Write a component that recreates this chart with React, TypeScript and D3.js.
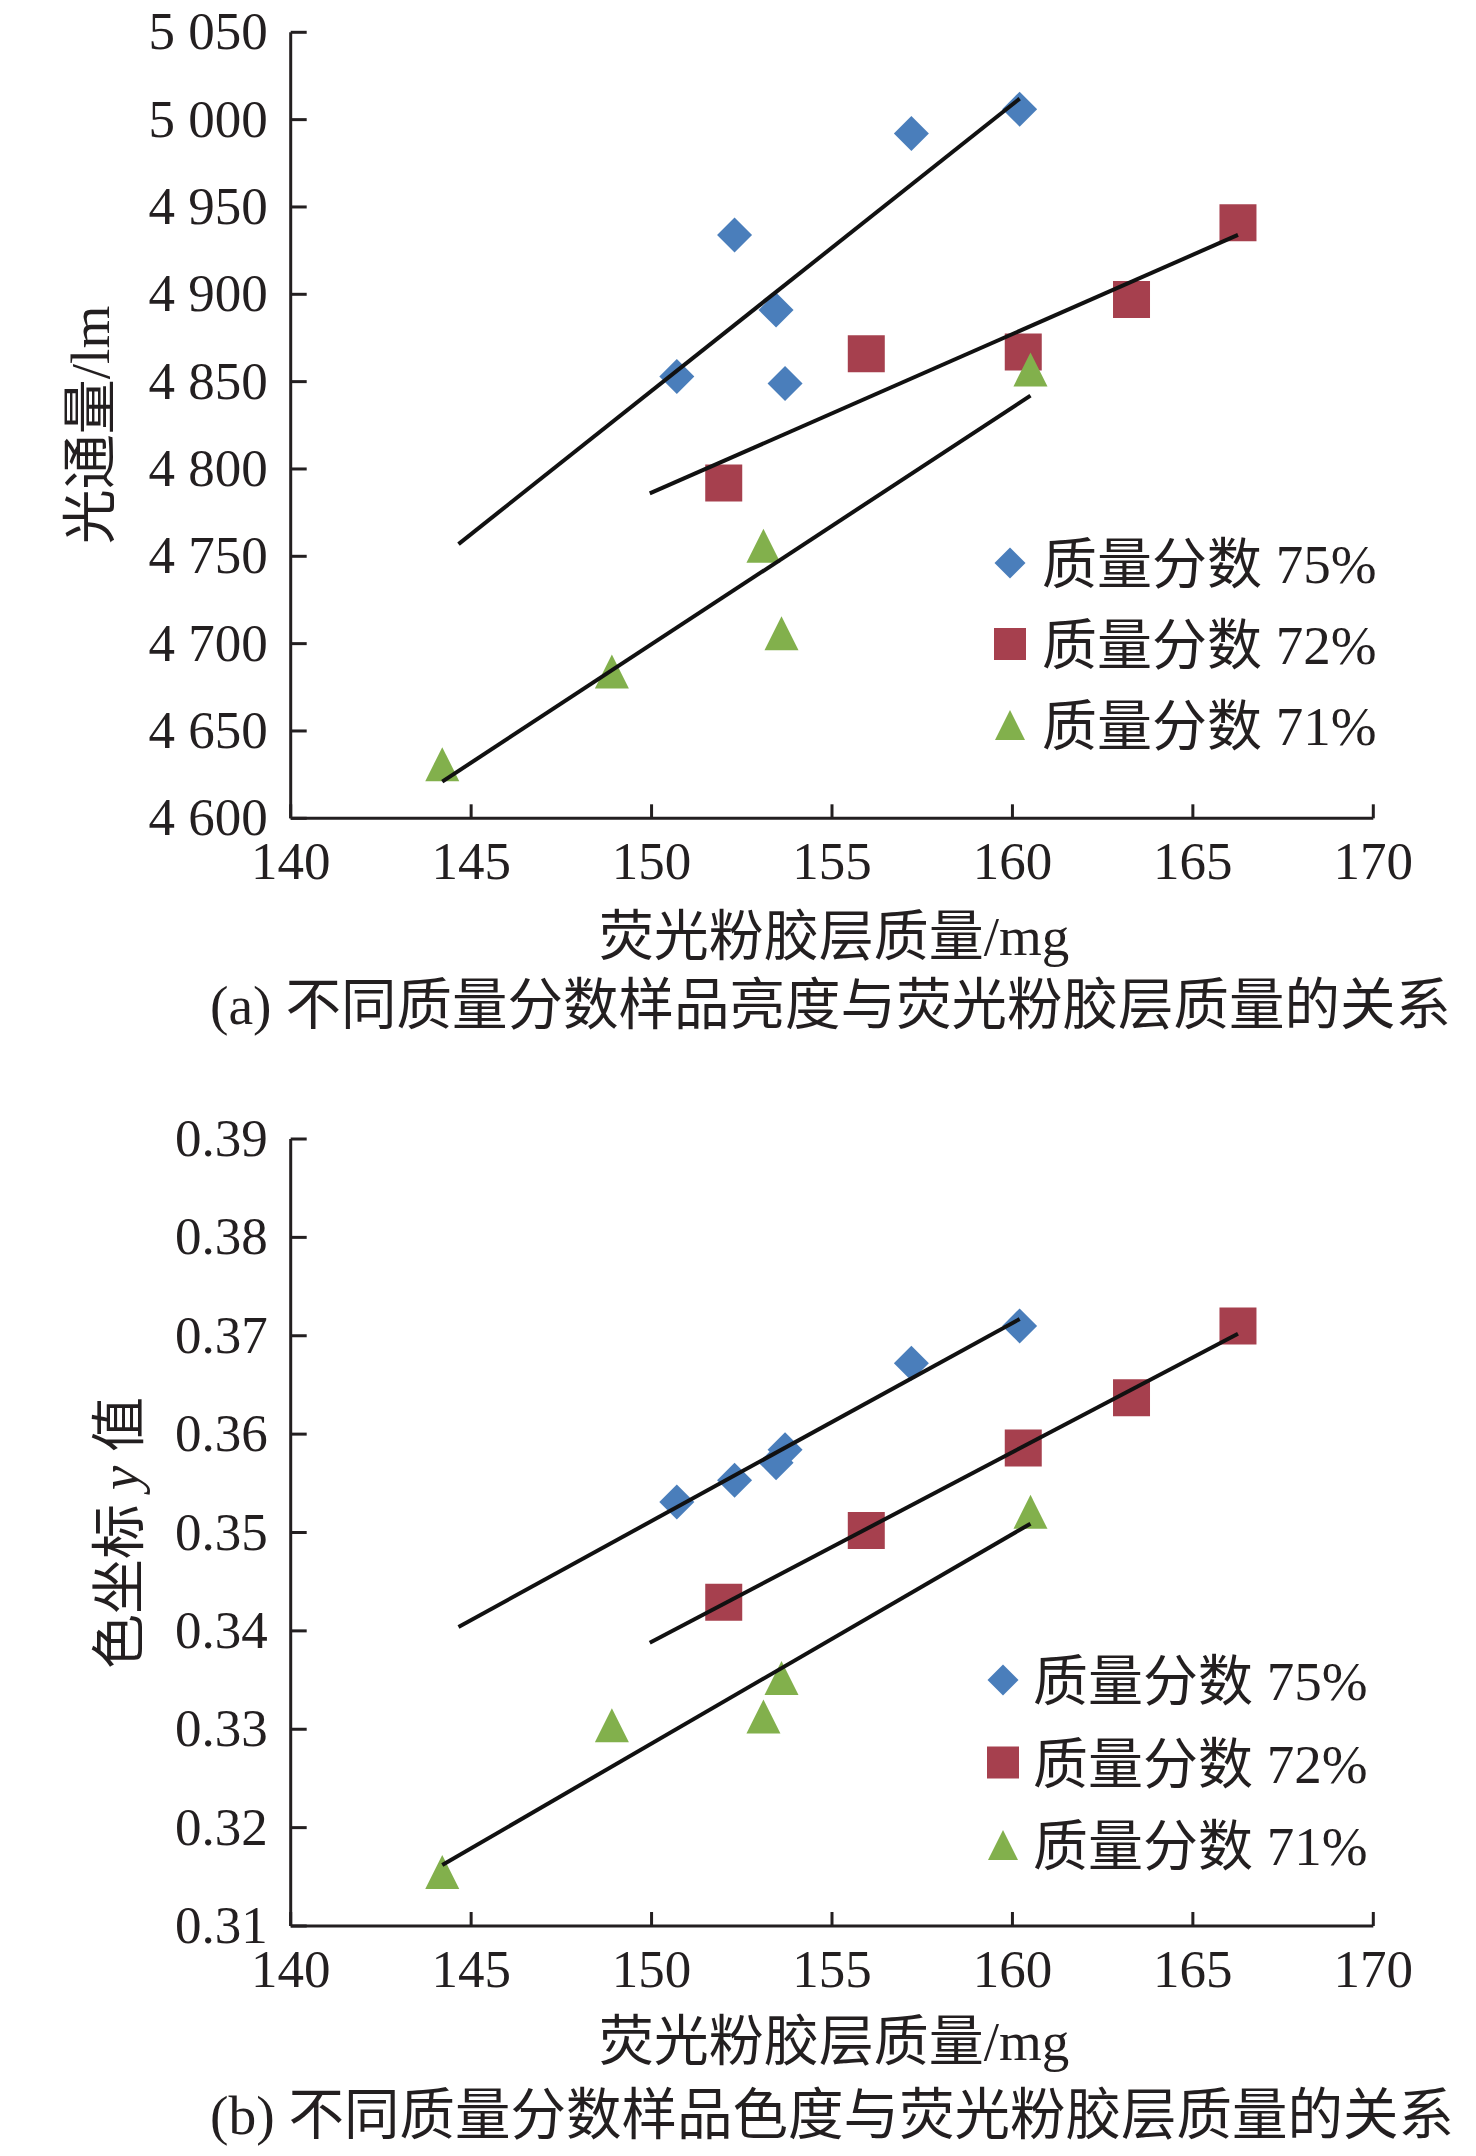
import * as d3 from "d3";

// phosphor gel mass (mg), same samples in both panels
const mass75 = [150.7, 152.3, 153.45, 153.7, 157.2, 160.2];
const mass72 = [152.0, 155.95, 160.3, 163.3, 166.25];
const mass71 = [144.2, 148.9, 153.1, 153.6, 160.5];

// (a) luminous flux, lm
const flux75 = [4853, 4934, 4891, 4849, 4992, 5006];
const flux72 = [4792, 4866, 4867, 4897, 4941];
const flux71 = [4631, 4684, 4756, 4706, 4857];

// (b) chromaticity y
const cy75 = [0.3531, 0.3553, 0.3571, 0.3584, 0.3672, 0.371];
const cy72 = [0.3429, 0.3502, 0.3586, 0.3637, 0.371];
const cy71 = [0.3155, 0.3304, 0.3313, 0.3352, 0.3521];

// trendline end points (Excel linear fits, extended)
const fitX75 = [144.65, 160.2];
const fitX72 = [149.95, 166.25];
const fitX71 = [144.2, 160.5];
const fluxFit75 = [4757, 5012];
const fluxFit72 = [4786, 4934];
const fluxFit71 = [4621, 4842];
const cyFit75 = [0.3404, 0.3717];
const cyFit72 = [0.3388, 0.3702];
const cyFit71 = [0.3162, 0.3509];

const seriesNames = ["质量分数 75%", "质量分数 72%", "质量分数 71%"];
const massTicks = [140, 145, 150, 155, 160, 165, 170];
const fluxTicks = [4600, 4650, 4700, 4750, 4800, 4850, 4900, 4950, 5000, 5050];
const cyTicks = [0.31, 0.32, 0.33, 0.34, 0.35, 0.36, 0.37, 0.38, 0.39];

const INK = "#231f20";
const COLORS = ["#4a7ebb", "#a6404e", "#82b04c"];
const SERIF = "'Liberation Serif', 'Times New Roman', 'Noto Sans CJK SC', serif";

const diamond = {
  draw(ctx: any, size: number) {
    const r = Math.sqrt(size) / 2;
    ctx.moveTo(0, -r);
    ctx.lineTo(r, 0);
    ctx.lineTo(0, r);
    ctx.lineTo(-r, 0);
    ctx.closePath();
  },
};
const triangle = {
  draw(ctx: any, size: number) {
    const r = Math.sqrt(size) / 2;
    ctx.moveTo(0, -r);
    ctx.lineTo(r, r);
    ctx.lineTo(-r, r);
    ctx.closePath();
  },
};
const markerTypes: any[] = [diamond, d3.symbolSquare, triangle];
const markerSizes = [35, 37, 34];
const legendSizes = [31, 32, 30];

const spaceFmt = d3.formatLocale({ decimal: ".", thousands: " ", grouping: [3], currency: ["", ""] }).format(",d");

interface PanelProps {
  ys: number[][];
  fits: number[][];
  yDomain: [number, number];
  yRange: [number, number];
  yTicks: number[];
  yFormat: (v: number) => string;
  yTitle: React.ReactNode;
  yTitleX: number;
  yTitleY: number;
  xTitleY: number;
  caption: string;
  captionY: number;
  legendX: number;
  legendTextX: number;
  legendY: number;
  legendStep: number;
}

const masses = [mass75, mass72, mass71];
const fitXs = [fitX75, fitX72, fitX71];

function Panel(p: PanelProps) {
  const x = d3.scaleLinear().domain([140, 170]).range([290.7, 1373.3]);
  const y = d3.scaleLinear().domain(p.yDomain).range(p.yRange);
  const x0 = x(140);
  const x1 = x(170);
  const yb = p.yRange[0];
  const yt = p.yRange[1];

  return (
    <g fontFamily={SERIF} fill={INK}>
      {/* markers */}
      {masses.map((ms, s) => {
        const sym = d3.symbol().type(markerTypes[s]).size(markerSizes[s] * markerSizes[s]);
        return (
          <g key={s} fill={COLORS[s]}>
            {ms.map((m, i) => (
              <path key={i} d={sym() || ""} transform={`translate(${x(m)},${y(p.ys[s][i])})`} />
            ))}
          </g>
        );
      })}
      {/* trendlines */}
      {fitXs.map((fx, s) => {
        const gen = d3
          .line<number>()
          .x((d) => x(d))
          .y((_, i) => y(p.fits[s][i]));
        return <path key={s} d={gen(fx) || ""} fill="none" stroke="#111" strokeWidth={4} />;
      })}
      {/* axes */}
      <g stroke={INK} strokeWidth={3} fill="none">
        <line x1={x0} x2={x0} y1={yb} y2={yt} />
        <line x1={x0} x2={x1} y1={yb} y2={yb} />
        {p.yTicks.map((t) => (
          <line key={t} x1={x0} x2={x0 + 16} y1={y(t)} y2={y(t)} />
        ))}
        {massTicks.map((t) => (
          <line key={t} x1={x(t)} x2={x(t)} y1={yb} y2={yb - 14} />
        ))}
      </g>
      {p.yTicks.map((t) => (
        <text key={t} x={x0 - 23} y={y(t) + 17} fontSize={53} textAnchor="end">
          {p.yFormat(t)}
        </text>
      ))}
      {massTicks.map((t) => (
        <text key={t} x={x(t)} y={yb + 61} fontSize={53} textAnchor="middle">
          {t}
        </text>
      ))}
      <text x={834} y={p.xTitleY} fontSize={55} textAnchor="middle">
        荧光粉胶层质量/mg
      </text>
      <text
        transform={`translate(${p.yTitleX},${p.yTitleY}) rotate(-90)`}
        fontSize={55}
        textAnchor="middle"
      >
        {p.yTitle}
      </text>
      {/* legend */}
      {seriesNames.map((name, s) => {
        const sym = d3.symbol().type(markerTypes[s]).size(legendSizes[s] * legendSizes[s]);
        const by = p.legendY + s * p.legendStep;
        return (
          <g key={name}>
            <path d={sym() || ""} fill={COLORS[s]} transform={`translate(${p.legendX},${by - 20})`} />
            <text x={p.legendTextX} y={by} fontSize={55}>
              {name}
            </text>
          </g>
        );
      })}
      <text x={210} y={p.captionY} fontSize={55.5}>
        {p.caption}
      </text>
    </g>
  );
}

export default function App() {
  return (
    <svg width={1476} height={2156} style={{ display: "block", background: "#fff" }}>
      <style>{`body{margin:0}`}</style>
      <Panel
        ys={[flux75, flux72, flux71]}
        fits={[fluxFit75, fluxFit72, fluxFit71]}
        yDomain={[4600, 5050]}
        yRange={[818.3, 32.3]}
        yTicks={fluxTicks}
        yFormat={(v) => spaceFmt(v)}
        yTitle="光通量/lm"
        yTitleX={109}
        yTitleY={425}
        xTitleY={955}
        caption="(a) 不同质量分数样品亮度与荧光粉胶层质量的关系"
        captionY={1024}
        legendX={1010}
        legendTextX={1042}
        legendY={583}
        legendStep={81}
      />
      <Panel
        ys={[cy75, cy72, cy71]}
        fits={[cyFit75, cyFit72, cyFit71]}
        yDomain={[0.31, 0.39]}
        yRange={[1926, 1139]}
        yTicks={cyTicks}
        yFormat={d3.format(".2f")}
        yTitle={
          <>
            色坐标 <tspan fontStyle="italic">y</tspan> 值
          </>
        }
        yTitleX={138}
        yTitleY={1533}
        xTitleY={2060}
        caption="(b) 不同质量分数样品色度与荧光粉胶层质量的关系"
        captionY={2134}
        legendX={1003}
        legendTextX={1033}
        legendY={1700}
        legendStep={82.5}
      />
    </svg>
  );
}
